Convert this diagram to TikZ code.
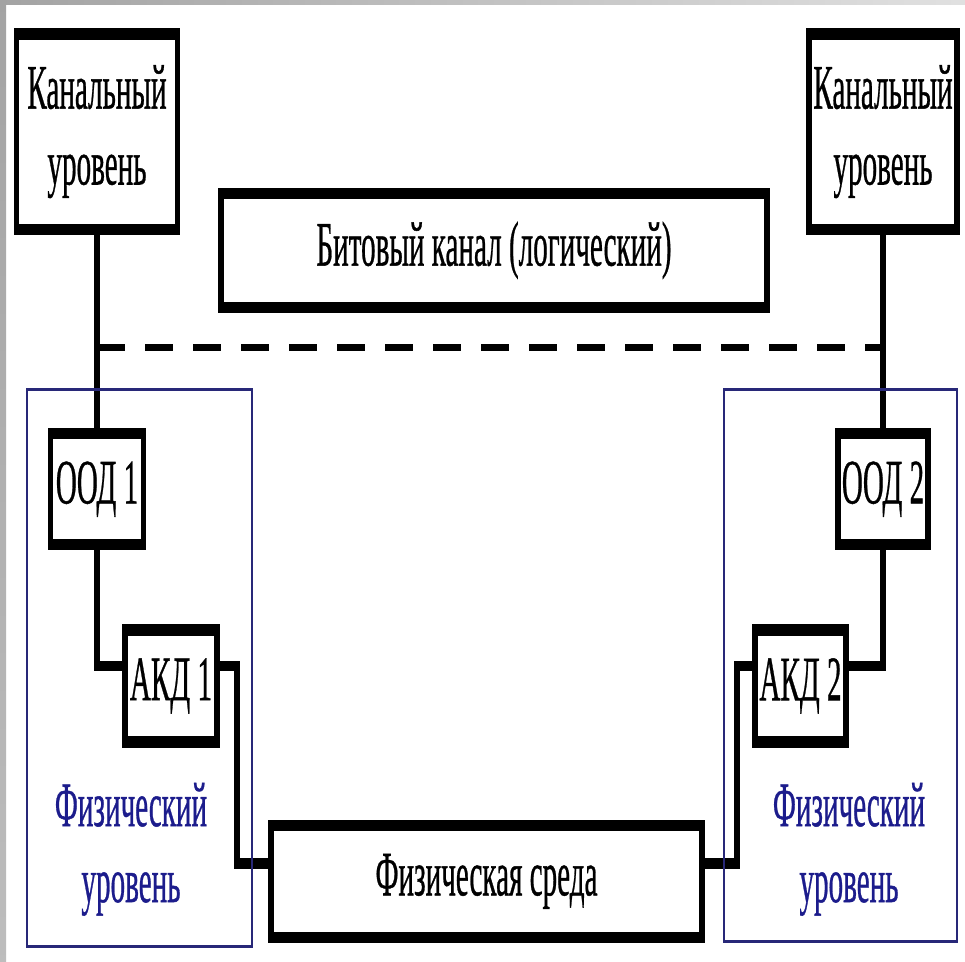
\documentclass[tikz,border=0pt]{standalone}
\usepackage{fontspec}
\setmainfont[FakeStretch=0.92, FakeBold=0.8]{Liberation Serif}

\definecolor{physblue}{RGB}{28,28,140}
\definecolor{physline}{RGB}{40,40,120}

\tikzset{
    blk/.style={draw, line width=1.6pt, fill=white, inner sep=0pt, align=center,
        font=\fontsize{9}{10.8}\selectfont},
    wire/.style={line width=1.5pt},
    logic/.style={line width=1.1pt, dash pattern=on 0.28cm off 0.2cm},
    physbox/.style={draw=physline, line width=0.45pt},
    physlabel/.style={text=physblue, align=center, font=\fontsize{9}{10.8}\selectfont}
}

\begin{document}
\begin{tikzpicture}[x=0.01cm, y=-0.01cm]

    \useasboundingbox (0,0) rectangle (965,962);
    \fill[white] (0,0) rectangle (965,962);
    \fill[left color=black!36, right color=black!12] (0,0) rectangle (965,5);
    \fill[top color=black!36, bottom color=black!26] (0,0) rectangle (6,962);

    % everything is drawn twice as tall
    \begin{scope}[y=-0.005cm, transform canvas={yscale=2}]

        \coordinate (dash) at (0,347);
        \coordinate (row) at (0,665);
        \coordinate (dnL) at (237,862);
        \coordinate (dnR) at (737,862);

        % links
        \draw[wire] (97,131.5) -- (97,488.5);
        \draw[wire] (883,131.5) -- (883,488.5);
        \draw[logic] (97,347) -- (883,347);

        \node (kanL) [blk, minimum width=1.61cm, minimum height=0.975cm] at (97,131.5) {Канальный\\уровень};
        \node (kanR) [blk, minimum width=1.48cm, minimum height=0.975cm] at (883,131.5) {Канальный\\уровень};
        \node (bit) [blk, minimum width=5.46cm, minimum height=0.57cm] at (494,250) {Битовый канал (логический)};

        \node (oodL) [blk, minimum width=0.93cm, minimum height=0.555cm] at (97,488.5) {ООД 1};
        \node (akdL) [blk, minimum width=0.92cm, minimum height=0.56cm] at (171,685) {АКД 1};
        \node (oodR) [blk, minimum width=0.90cm, minimum height=0.555cm] at (883,488.5) {ООД 2};
        \node (akdR) [blk, minimum width=0.91cm, minimum height=0.56cm] at (800.5,685) {АКД 2};
        \node (sreda) [blk, minimum width=4.31cm, minimum height=0.56cm] at (486.5,880) {Физическая среда};

        \draw[wire] (oodL.south) |- (akdL.west |- row);
        \draw[wire] (akdL.east |- row) -| (dnL) -- (sreda.west |- dnL);
        \draw[wire] (sreda.east |- dnR) -- (dnR) |- (akdR.west |- row);
        \draw[wire] (akdR.east |- row) -| (oodR.south);

        % physical layer frames
        \draw[physbox] (27,389) rectangle (252,945);
        \draw[physbox] (724,389) rectangle (957,940);
        \node (physL) [physlabel] at (131,848) {Физический\\уровень};
        \node (physR) [physlabel] at (849,848) {Физический\\уровень};

    \end{scope}

\end{tikzpicture}
\end{document}
